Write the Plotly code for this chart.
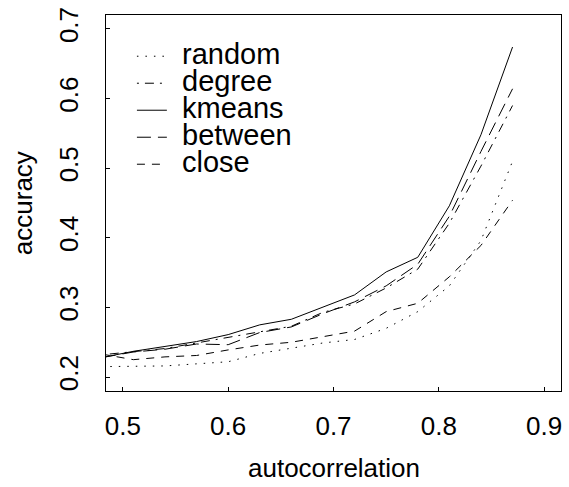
import plotly.graph_objects as go

# ---- data ----
autocorrelation = [0.48, 0.51, 0.54, 0.57, 0.60, 0.63, 0.66, 0.69, 0.72, 0.75, 0.78, 0.81, 0.84, 0.87]
random_acc  = [0.215, 0.215, 0.216, 0.219, 0.222, 0.234, 0.241, 0.249, 0.254, 0.270, 0.294, 0.331, 0.396, 0.510]
degree_acc  = [0.232, 0.237, 0.241, 0.249, 0.257, 0.266, 0.273, 0.293, 0.305, 0.328, 0.355, 0.421, 0.503, 0.590]
kmeans_acc  = [0.228, 0.237, 0.244, 0.251, 0.261, 0.275, 0.283, 0.301, 0.318, 0.351, 0.372, 0.446, 0.548, 0.674]
between_acc = [0.228, 0.236, 0.240, 0.2475, 0.2465, 0.264, 0.272, 0.291, 0.308, 0.331, 0.362, 0.431, 0.524, 0.614]
close_acc   = [0.233, 0.225, 0.229, 0.231, 0.239, 0.246, 0.250, 0.258, 0.266, 0.294, 0.306, 0.344, 0.389, 0.454]

series_names = ["random", "degree", "kmeans", "between", "close"]
series_vals = [random_acc, degree_acc, kmeans_acc, between_acc, close_acc]
series_dash = ["1.5px,7px", "2px,6px,9px,6px", "solid", "14px,7px", "8px,7px"]

x_ticks = [0.5, 0.6, 0.7, 0.8, 0.9]
y_ticks = [0.2, 0.3, 0.4, 0.5, 0.6, 0.7]

W, H = 569, 487
L, R, T, B = 106, 7, 8, 96
PW, PH = W - L - R, H - T - B

def px(x):
    return (x - L) / PW

def py(y):
    return (H - B - y) / PH

FONT = "Liberation Sans, Arial, Helvetica, sans-serif"

fig = go.Figure()
for name, vals, dash in zip(series_names, series_vals, series_dash):
    fig.add_trace(go.Scatter(x=autocorrelation, y=vals, mode="lines", name=name,
                             line=dict(color="black", width=1.0, dash=dash),
                             showlegend=False))

# manual legend (R-style, tight spacing)
row_y = [48, 75.5, 103, 130.5, 158]
for name, dash, ry in zip(series_names, series_dash, row_y):
    fig.add_shape(type="line", xref="paper", yref="paper",
                  x0=px(137), x1=px(167), y0=py(ry + 2), y1=py(ry + 2),
                  line=dict(color="black", width=1.0, dash=dash))
    fig.add_annotation(text=name, xref="paper", yref="paper",
                       x=px(180), y=py(ry), xanchor="left", yanchor="middle",
                       showarrow=False, font=dict(family=FONT, size=29, color="black"))

# axis titles
fig.add_annotation(text="autocorrelation", xref="paper", yref="paper",
                   x=px(334), y=py(469), xanchor="center", yanchor="middle",
                   showarrow=False, font=dict(family=FONT, size=26, color="black"))
fig.add_annotation(text="accuracy", xref="paper", yref="paper",
                   x=px(23), y=py(199.5), xanchor="center", yanchor="middle", textangle=-90,
                   showarrow=False, font=dict(family=FONT, size=26, color="black"))

axis_common = dict(showgrid=False, zeroline=False, showline=True, mirror=True,
                   linecolor="black", linewidth=1, ticks="inside", ticklen=4,
                   tickcolor="black", tickwidth=1,
                   tickfont=dict(family=FONT, size=26, color="black"))

fig.update_layout(
    width=W, height=H,
    margin=dict(l=L, r=R, t=T, b=B, pad=0),
    paper_bgcolor="white", plot_bgcolor="white",
    xaxis=dict(range=[0.484, 0.916], tickvals=x_ticks, ticktext=[str(v) for v in x_ticks],
               ticklabelstandoff=12, **axis_common),
    yaxis=dict(range=[0.18, 0.72], tickvals=y_ticks, ticktext=[str(v) for v in y_ticks],
               tickangle=-90, ticklabelstandoff=17, **axis_common),
    showlegend=False,
)

fig.write_html("out.html")
